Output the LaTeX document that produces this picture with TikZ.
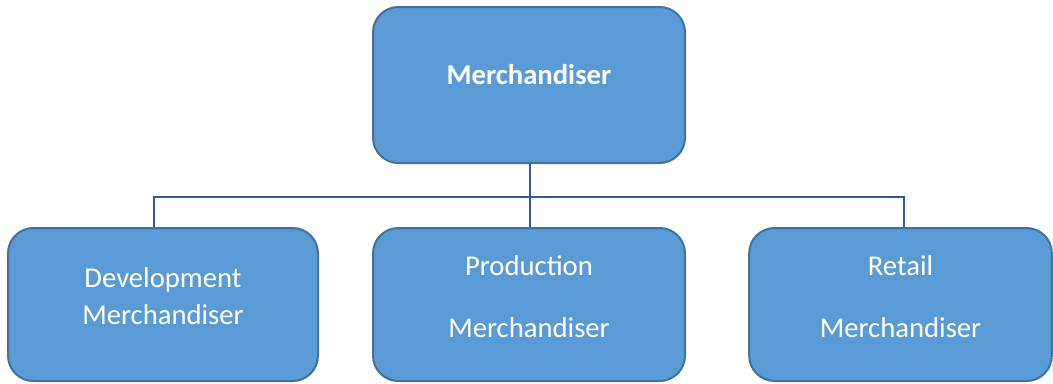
\documentclass[tikz,border=0pt]{standalone}
\usepackage{fontspec}
\setmainfont{Carlito}
\definecolor{boxfill}{RGB}{91,155,213}
\definecolor{boxline}{RGB}{65,113,156}
\definecolor{wire}{RGB}{52,88,158}
\tikzset{
  orgbox/.style={draw=boxline,fill=boxfill,line width=1.5pt,rounded corners=19pt,
    minimum width=232.5pt,minimum height=114.75pt,inner sep=0pt},
  orgtext/.style={text=white,align=center,inner sep=0pt,
    font=\fontsize{21.5}{27.75}\selectfont},
  wireline/.style={draw=wire,line width=1.5pt}
}
\begin{document}
\begin{tikzpicture}[x=0.75pt,y=-0.75pt]
\useasboundingbox (0,0) rectangle (1053,383);
% boxes
\node[orgbox,minimum width=234pt,minimum height=117pt] (top) at (529,85) {};
\node[orgbox] (dev) at (163,304.5) {};
\node[orgbox,minimum width=234pt] (prod) at (529,304.5) {};
\node[orgbox,minimum width=227pt] (ret) at (900.5,304.5) {};
% texts
\node[orgtext,font=\fontsize{21.5}{27.75}\selectfont\bfseries] (toptext) at (529,75) {Merchandiser};
\node[orgtext] (devtext) at (163,296.5) {Development\\Merchandiser};
\node[orgtext] (prodtext) at (529,297) {Production\\[18.75pt]Merchandiser};
\node[orgtext] (rettext) at (900.5,297) {Retail\\[18.75pt]Merchandiser};
% connectors
\coordinate (bar) at (530,197);
\draw[wireline] ([xshift=0.75pt]top.south) -- (bar);
\draw[wireline] (bar) -- ([xshift=0.75pt]prod.north);
\draw[wireline] ([xshift=-6.75pt]dev.north) |- (bar) -| ([xshift=2.6pt]ret.north);
\end{tikzpicture}
\end{document}
